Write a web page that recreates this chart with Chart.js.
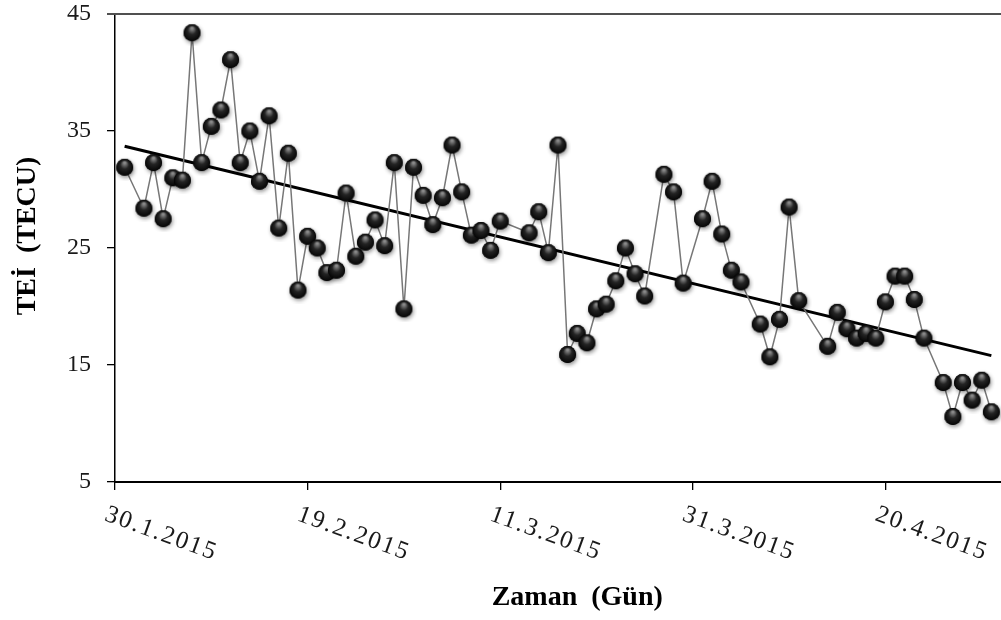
<!DOCTYPE html>
<html>
<head>
<meta charset="utf-8">
<script src="https://cdn.jsdelivr.net/npm/chart.js@4.4.1/dist/chart.umd.min.js"></script>
<style>
  html, body { margin: 0; padding: 0; background: #fff; overflow: hidden; }
  /* the original figure is cropped on the right, so the canvas is wider than the window */
  #wrap { width: 1001px; height: 620px; overflow: hidden; }
  #chart { display: block; }
</style>
</head>
<body>
<div id="wrap"><canvas id="chart" width="1050" height="620"></canvas></div>
<script>
// axis starts on this day, x values are days from it
const startDate = '30.1.2015';
const endDay = 96;

const dates = [
    '31.1.2015', '2.2.2015', '3.2.2015', '4.2.2015', '5.2.2015', '6.2.2015', '7.2.2015', '8.2.2015', '9.2.2015', '10.2.2015',
    '11.2.2015', '12.2.2015', '13.2.2015', '14.2.2015', '15.2.2015', '16.2.2015', '17.2.2015', '18.2.2015', '19.2.2015', '20.2.2015',
    '21.2.2015', '22.2.2015', '23.2.2015', '24.2.2015', '25.2.2015', '26.2.2015', '27.2.2015', '28.2.2015', '1.3.2015', '2.3.2015',
    '3.3.2015', '4.3.2015', '5.3.2015', '6.3.2015', '7.3.2015', '8.3.2015', '9.3.2015', '10.3.2015', '11.3.2015', '14.3.2015',
    '15.3.2015', '16.3.2015', '17.3.2015', '18.3.2015', '19.3.2015', '20.3.2015', '21.3.2015', '22.3.2015', '23.3.2015', '24.3.2015',
    '25.3.2015', '26.3.2015', '28.3.2015', '29.3.2015', '30.3.2015', '1.4.2015', '2.4.2015', '3.4.2015', '4.4.2015', '5.4.2015',
    '7.4.2015', '8.4.2015', '9.4.2015', '10.4.2015', '11.4.2015', '14.4.2015', '15.4.2015', '16.4.2015', '17.4.2015', '18.4.2015',
    '19.4.2015', '20.4.2015', '21.4.2015', '22.4.2015', '23.4.2015', '24.4.2015', '26.4.2015', '27.4.2015', '28.4.2015', '29.4.2015',
    '30.4.2015', '1.5.2015'
];

const tei = [
    31.9, 28.4, 32.3, 27.5, 31.0, 30.8, 43.4, 32.3, 35.4, 36.8,
    41.1, 32.3, 35.0, 30.7, 36.3, 26.7, 33.1, 21.4, 26.0, 25.0,
    22.9, 23.1, 29.7, 24.3, 25.5, 27.4, 25.2, 32.3, 19.8, 31.9,
    29.5, 27.0, 29.3, 33.8, 29.8, 26.1, 26.5, 24.8, 27.3, 26.3,
    28.1, 24.6, 33.8, 15.9, 17.7, 16.9, 19.8, 20.2, 22.2, 25.0,
    22.8, 20.9, 31.3, 29.8, 22.0, 27.5, 30.7, 26.2, 23.1, 22.1,
    18.5, 15.7, 18.9, 28.5, 20.5, 16.6, 19.5, 18.1, 17.3, 17.7,
    17.3, 20.4, 22.6, 22.6, 20.6, 17.3, 13.5, 10.6, 13.5, 12.0,
    13.7, 11.0
];

// linear trend line, end points
const trendDates = ['31.1.2015', '1.5.2015'];
const trendValues = [33.7, 15.8];

const xTickDates = ['30.1.2015', '19.2.2015', '11.3.2015', '31.3.2015', '20.4.2015'];
const yTicks = [5, 15, 25, 35, 45];

const SERIF = '"Liberation Serif", "Times New Roman", serif';

function toUTC(str) {
    const [d, m, y] = str.split('.').map(Number);
    return Date.UTC(y, m - 1, d);
}

function dayOf(str) {
    return Math.round((toUTC(str) - toUTC(startDate)) / 86400000);
}

// glossy black ball used as the marker
function makeBall(r) {
    const pad = 5;
    const size = Math.ceil(2 * r + 2 * pad);
    const c = document.createElement('canvas');
    c.width = c.height = size;
    const g = c.getContext('2d');
    const cx = size / 2, cy = size / 2;
    g.save();
    g.shadowColor = 'rgba(0,0,0,0.45)';
    g.shadowBlur = 4;
    g.shadowOffsetX = 1;
    g.shadowOffsetY = 2;
    g.beginPath();
    g.arc(cx, cy, r, 0, Math.PI * 2);
    g.fillStyle = '#000';
    g.fill();
    g.restore();
    const grad = g.createRadialGradient(cx, cy - r * 0.55, r * 0.1, cx, cy, r);
    grad.addColorStop(0, '#8c8c8c');
    grad.addColorStop(0.45, '#242424');
    grad.addColorStop(1, '#050505');
    g.beginPath();
    g.arc(cx, cy, r, 0, Math.PI * 2);
    g.fillStyle = grad;
    g.fill();
    return c;
}

const ball = makeBall(8.5);

// frame line on top, slanted date labels and the y title
const decor = {
    id: 'decor',
    afterDraw(chart) {
        const { ctx, chartArea } = chart;
        const xs = chart.scales.x;

        ctx.save();
        ctx.strokeStyle = '#505050';
        ctx.lineWidth = 2;
        ctx.beginPath();
        ctx.moveTo(chartArea.left - 8, chartArea.top);
        ctx.lineTo(chart.width, chartArea.top);
        ctx.stroke();
        ctx.restore();

        ctx.save();
        ctx.fillStyle = '#1a1a1a';
        ctx.font = '25px ' + SERIF;
        ctx.textAlign = 'left';
        ctx.textBaseline = 'top';
        if ('letterSpacing' in ctx) ctx.letterSpacing = '2px';
        xTickDates.forEach(d => {
            const px = xs.getPixelForValue(dayOf(d));
            ctx.save();
            ctx.translate(px - 5, chartArea.bottom + 20);
            ctx.rotate(20 * Math.PI / 180);
            ctx.fillText(d, 0, 0);
            ctx.restore();
        });
        ctx.restore();

        ctx.save();
        ctx.fillStyle = '#000';
        ctx.font = 'bold 28px ' + SERIF;
        ctx.textAlign = 'center';
        ctx.textBaseline = 'middle';
        ctx.translate(28, 236);
        ctx.rotate(-Math.PI / 2);
        ctx.fillText('TEİ  (TECU)', 0, 0);
        ctx.restore();
    }
};

new Chart(document.getElementById('chart'), {
    type: 'line',
    data: {
        datasets: [
            {
                label: 'TEİ',
                data: dates.map((d, i) => ({ x: dayOf(d), y: tei[i] })),
                borderColor: '#777',
                borderWidth: 1.5,
                pointStyle: ball,
                pointRadius: 9,
                pointHoverRadius: 9,
                tension: 0
            },
            {
                label: 'Trend',
                data: trendDates.map((d, i) => ({ x: dayOf(d), y: trendValues[i] })),
                borderColor: '#000',
                borderWidth: 3,
                pointRadius: 0,
                tension: 0
            }
        ]
    },
    options: {
        responsive: false,
        animation: false,
        events: [],
        layout: { padding: { top: 14, right: 3, left: 0, bottom: 0 } },
        plugins: {
            legend: { display: false },
            tooltip: { enabled: false }
        },
        scales: {
            x: {
                type: 'linear',
                min: 0,
                max: endDay,
                afterBuildTicks: s => { s.ticks = xTickDates.map(d => ({ value: dayOf(d) })); },
                afterFit: s => { s.height = 138; },
                border: { color: '#000', width: 2 },
                grid: { drawOnChartArea: false, drawTicks: true, tickLength: 8, color: '#000', lineWidth: 1.3 },
                ticks: { display: false },
                title: {
                    display: true,
                    text: 'Zaman  (Gün)',
                    color: '#000',
                    font: { family: SERIF, size: 28, weight: 'bold', lineHeight: 1.2 },
                    padding: { top: 0, bottom: 5 }
                }
            },
            y: {
                min: yTicks[0],
                max: yTicks[yTicks.length - 1],
                // fixed width, and no extra room above the top label
                afterFit: s => { s.width = 115; s.paddingTop = 0; s.paddingBottom = 0; },
                border: { color: '#000', width: 1.5 },
                grid: { drawOnChartArea: false, drawTicks: true, tickLength: 8, color: '#000', lineWidth: 1.3 },
                ticks: {
                    stepSize: yTicks[1] - yTicks[0],
                    padding: 16,
                    color: '#1a1a1a',
                    font: { family: SERIF, size: 24 }
                }
            }
        }
    },
    plugins: [decor]
});
</script>
</body>
</html>
